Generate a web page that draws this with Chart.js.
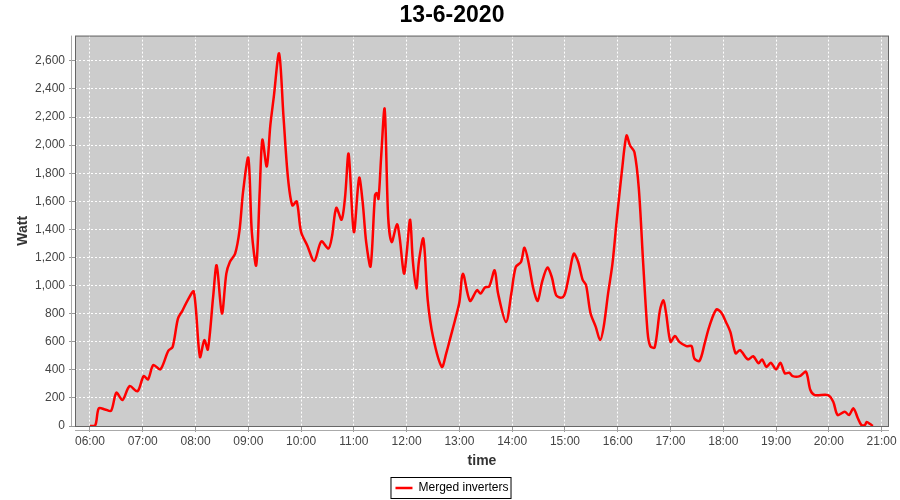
<!DOCTYPE html>
<html>
<head>
<meta charset="utf-8">
<script src="https://cdn.jsdelivr.net/npm/chart.js@4.4.1/dist/chart.umd.min.js"></script>
<style>
  html, body { margin: 0; padding: 0; background: #fff; }
</style>
</head>
<body>
<canvas id="chart" width="900" height="500"></canvas>
<script>
const chartTitle = '13-6-2020';
const seriesName = 'Merged inverters';

const times = [
  '06:00', '06:06', '06:10', '06:17', '06:24', '06:30', '06:37', '06:45', '06:54',
  '07:01', '07:06', '07:12', '07:20', '07:29', '07:34', '07:40', '07:45', '07:51', '07:58',
  '08:05', '08:10', '08:14', '08:20', '08:24', '08:30', '08:35', '08:39', '08:45', '08:50', '08:54',
  '09:00', '09:04', '09:09', '09:13', '09:16', '09:21', '09:25', '09:29', '09:35', '09:40', '09:45', '09:50', '09:55',
  '10:00', '10:07', '10:15', '10:23', '10:31', '10:35', '10:40', '10:46', '10:50', '10:54',
  '11:00', '11:06', '11:10', '11:14', '11:19', '11:24', '11:26', '11:28', '11:31', '11:35', '11:39', '11:43', '11:49', '11:52', '11:57',
  '12:00', '12:04', '12:07', '12:11', '12:14', '12:19', '12:24', '12:30', '12:40', '12:45', '12:50', '12:55',
  '13:00', '13:04', '13:12', '13:20', '13:24', '13:29', '13:34', '13:40', '13:44', '13:53', '13:59',
  '14:04', '14:10', '14:14', '14:19', '14:24', '14:29', '14:34', '14:40', '14:45', '14:50', '14:56',
  '15:00', '15:05', '15:10', '15:15', '15:20', '15:24', '15:29', '15:35', '15:40', '15:44', '15:49', '15:54', '15:59',
  '16:05', '16:10', '16:14', '16:19', '16:24', '16:29', '16:34', '16:37', '16:42', '16:48', '16:52', '16:55',
  '17:00', '17:05', '17:10', '17:18', '17:24', '17:27', '17:33', '17:39', '17:44', '17:52', '17:58',
  '18:03', '18:08', '18:14', '18:19', '18:28', '18:34', '18:40', '18:44', '18:49', '18:54',
  '19:00', '19:05', '19:10', '19:15', '19:19', '19:27', '19:34', '19:39', '19:44', '19:59',
  '20:05', '20:10', '20:18', '20:23', '20:28', '20:33', '20:37', '20:41', '20:43', '20:47', '20:50',
];

const watts = [
  0, 5, 126, 118, 109, 237, 185, 284, 247,
  355, 332, 434, 403, 535, 564, 765, 820, 895, 957,
  492, 611, 545, 919, 1144, 801, 1085, 1168, 1227, 1393, 1665,
  1910, 1381, 1144, 1677, 2038, 1848, 2139, 2345, 2653, 2203, 1772, 1571, 1599,
  1381, 1286, 1175, 1315, 1263, 1345, 1554, 1469, 1630, 1938,
  1381, 1767, 1594, 1310, 1137, 1642, 1658, 1618, 1914, 2258, 1488, 1310, 1436, 1345, 1085,
  1227, 1469, 1180, 979, 1175, 1334, 895, 635, 421, 517, 635, 753,
  883, 1085, 891, 967, 943, 986, 995, 1109, 943, 741, 943,
  1132, 1168, 1270, 1151, 979, 891, 1026, 1128, 1061, 931, 914,
  943, 1085, 1227, 1168, 1043, 1002, 805, 706, 611, 706, 943, 1156, 1476,
  1831, 2068, 1997, 1950, 1689, 1151, 663, 569, 559, 824, 895, 801,
  599, 640, 599, 569, 569, 481, 464, 592, 706, 829, 805,
  741, 670, 517, 540, 474, 497, 446, 474, 421, 450,
  403, 450, 375, 379, 355, 355, 386, 256, 220, 220,
  173, 78, 102, 78, 126, 55, 7, 7, 28, 14, 0,
];

const hourTicks = [6, 7, 8, 9, 10, 11, 12, 13, 14, 15, 16, 17, 18, 19, 20, 21];
const wattTicks = [0, 200, 400, 600, 800, 1000, 1200, 1400, 1600, 1800, 2000, 2200, 2400, 2600];

const toHours = t => {
  const [h, m] = t.split(':').map(Number);
  return h + m / 60;
};
const hourLabel = v => `${String(v).padStart(2, '0')}:00`;

const tickFont = { family: 'Liberation Sans', size: 12 };
const axisTitleFont = { family: 'Liberation Sans', size: 14, weight: 'bold' };

// grey plot background, outline and the offset axis lines, legend frame
const plotFrame = {
  id: 'plotFrame',
  beforeDraw(chart) {
    const { ctx, chartArea: a } = chart;
    ctx.save();
    ctx.fillStyle = '#cccccc';
    ctx.fillRect(a.left, a.top, a.right - a.left, a.bottom - a.top);
    ctx.restore();
  },
  afterDraw(chart) {
    const { ctx, chartArea: a } = chart;
    ctx.save();
    ctx.strokeStyle = '#666';
    ctx.lineWidth = 1;
    ctx.strokeRect(a.left + 0.5, a.top + 0.5, a.right - a.left - 1, a.bottom - a.top);
    ctx.strokeStyle = '#aaa';
    ctx.beginPath();
    ctx.moveTo(a.left - 3.5, a.top);
    ctx.lineTo(a.left - 3.5, a.bottom);
    ctx.moveTo(a.left, a.bottom + 4.5);
    ctx.lineTo(a.right, a.bottom + 4.5);
    ctx.stroke();
    const box = chart.legend.legendHitBoxes[0];
    if (box) {
      ctx.strokeStyle = '#000';
      ctx.strokeRect(box.left - 4.5, box.top - 4.5, box.width + 7, box.height + 9);
    }
    ctx.restore();
  },
};

new Chart(document.getElementById('chart'), {
  type: 'line',
  data: {
    datasets: [{
      label: seriesName,
      data: times.map((t, i) => ({ x: toHours(t), y: watts[i] })),
      borderColor: '#ff0000',
      backgroundColor: '#ff0000',
      borderWidth: 2.5,
      pointRadius: 0,
      tension: 0.3,
      fill: false,
    }],
  },
  options: {
    responsive: false,
    animation: false,
    layout: { padding: { left: 15, right: 11, top: 0, bottom: -4 } },
    plugins: {
      title: {
        display: true,
        text: chartTitle,
        color: '#000',
        font: { family: 'Liberation Sans', size: 23, weight: 'bold' },
        padding: { top: 2, bottom: 6 },
      },
      legend: {
        position: 'bottom',
        labels: {
          usePointStyle: true,
          pointStyle: 'line',
          pointStyleWidth: 17,
          color: '#000',
          font: { family: 'Liberation Sans', size: 12 },
          padding: 6,
        },
      },
      tooltip: { enabled: false },
    },
    scales: {
      x: {
        type: 'linear',
        min: 5.716,
        max: 21.14,
        afterBuildTicks: s => { s.ticks = hourTicks.map(v => ({ value: v })); },
        afterFit: s => { s.height = 50; },
        ticks: { callback: hourLabel, font: tickFont, color: '#444', maxRotation: 0, autoSkip: false, padding: 2 },
        grid: { color: '#ffffff', tickColor: '#999', tickLength: 6, lineWidth: 1 },
        border: { display: false, dash: [2, 2] },
        title: { display: true, text: 'time', font: axisTitleFont, color: '#333', padding: { top: 0, bottom: 6 } },
      },
      y: {
        min: 0,
        max: 2780,
        afterBuildTicks: s => { s.ticks = wattTicks.map(v => ({ value: v })); },
        afterFit: s => { s.width = 60; },
        ticks: { callback: v => v.toLocaleString('en-US'), font: tickFont, color: '#444', padding: 4 },
        grid: { color: '#ffffff', tickColor: '#999', tickLength: 6, lineWidth: 1 },
        border: { display: false, dash: [2, 2] },
        title: { display: true, text: 'Watt', font: axisTitleFont, color: '#333', padding: { top: 0, bottom: 8 } },
      },
    },
  },
  plugins: [plotFrame],
});
</script>
</body>
</html>
